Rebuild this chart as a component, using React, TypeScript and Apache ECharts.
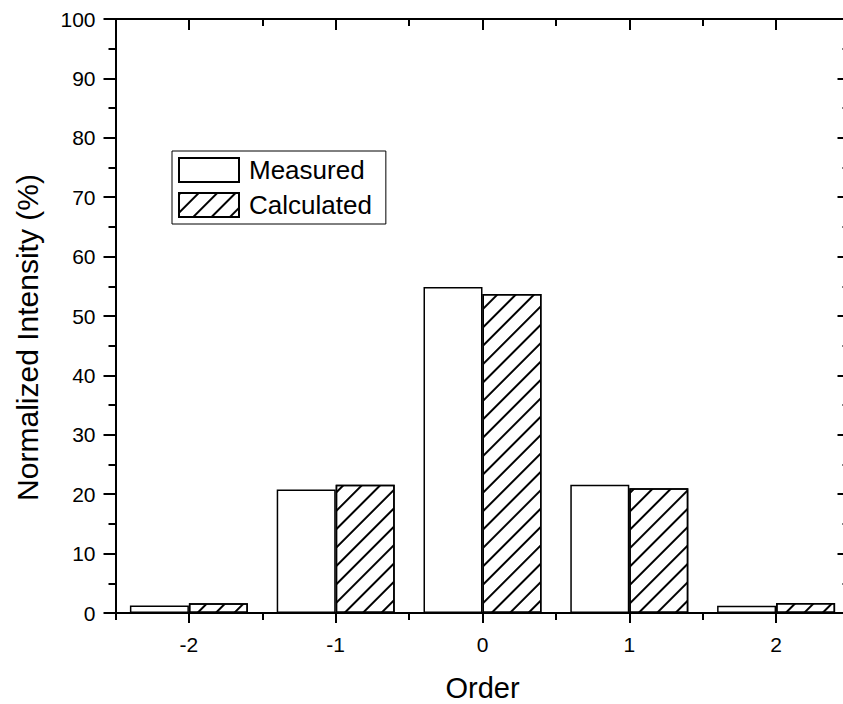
import React, { useEffect, useRef } from "react";
import * as echarts from "echarts";

const categories = ["-2", "-1", "0", "1", "2"];
const measured = [1.25, 20.8, 54.9, 21.6, 1.2];
const calculated = [1.65, 21.6, 53.7, 21.0, 1.7];
const yTitle = "Normalized Intensity (%)";
const xTitle = "Order";
const font = "Liberation Sans, Arial, sans-serif";

export default function App() {
  const ref = useRef<HTMLDivElement>(null);
  useEffect(() => {
    if (!ref.current) return;
    const chart = echarts.init(ref.current, null, { renderer: "svg" });
    const axisLine = { show: true, lineStyle: { color: "#000", width: 2 } };
    const hiddenLabel = { show: false };
    chart.setOption({
      animation: false,
      backgroundColor: "#fff",
      grid: {
        left: 115.5,
        width: 734,
        top: 19,
        bottom: 91,
        containLabel: false,
        outerBoundsMode: "none",
      },
      legend: {
        orient: "vertical",
        left: 172,
        top: 151,
        padding: [6, 14, 6, 6],
        borderColor: "#000",
        borderWidth: 1,
        itemWidth: 60,
        itemHeight: 24,
        itemGap: 9,
        icon: "rect",
        textStyle: { fontSize: 26, fontFamily: font, color: "#000", padding: [0, 0, 0, 5] },
        data: ["Measured", "Calculated"],
      },
      xAxis: [
        {
          type: "category",
          data: categories,
          position: "bottom",
          axisLine,
          axisTick: { show: true, alignWithLabel: true, length: 10, lineStyle: { color: "#000", width: 2 } },
          axisLabel: { margin: 21, fontSize: 21, fontFamily: font, color: "#000" },
          name: xTitle,
          nameLocation: "middle",
          nameGap: 60,
          nameTextStyle: { fontSize: 29, fontFamily: font, color: "#000" },
          splitLine: { show: false },
        },
        {
          type: "category",
          data: categories,
          position: "bottom",
          axisLine: { show: false },
          axisTick: { show: true, length: 7, lineStyle: { color: "#000", width: 2 } },
          axisLabel: hiddenLabel,
          splitLine: { show: false },
        },
        {
          type: "category",
          data: categories,
          position: "top",
          axisLine,
          axisTick: { show: true, inside: true, alignWithLabel: true, length: 11, lineStyle: { color: "#000", width: 2 } },
          axisLabel: hiddenLabel,
          splitLine: { show: false },
        },
        {
          type: "category",
          data: categories,
          position: "top",
          axisLine: { show: false },
          axisTick: { show: true, inside: true, length: 7, lineStyle: { color: "#000", width: 2 } },
          axisLabel: hiddenLabel,
          splitLine: { show: false },
        },
      ],
      yAxis: [
        {
          type: "value",
          position: "left",
          min: 0,
          max: 100,
          interval: 10,
          axisLine,
          axisTick: { show: true, length: 12, lineStyle: { color: "#000", width: 2 } },
          minorTick: { show: true, splitNumber: 2, length: 7, lineStyle: { color: "#000", width: 2 } },
          axisLabel: { margin: 20, fontSize: 21, fontFamily: font, color: "#000" },
          splitLine: { show: false },
          minorSplitLine: { show: false },
        },
        {
          type: "value",
          position: "right",
          min: 0,
          max: 100,
          interval: 10,
          axisLine,
          axisTick: { show: true, inside: true, length: 12, lineStyle: { color: "#000", width: 2 } },
          minorTick: { show: true, splitNumber: 2, length: 7, lineStyle: { color: "#000", width: 2 } },
          axisLabel: hiddenLabel,
          splitLine: { show: false },
          minorSplitLine: { show: false },
        },
      ],
      series: [
        {
          name: "Measured",
          type: "bar",
          xAxisIndex: 0,
          yAxisIndex: 0,
          data: measured,
          barWidth: 59,
          barGap: "0%",
          itemStyle: { color: "#fff", borderColor: "#000", borderWidth: 1.5 },
        },
        {
          name: "Calculated",
          type: "bar",
          xAxisIndex: 0,
          yAxisIndex: 0,
          data: calculated,
          barWidth: 59,
          barGap: "0%",
          itemStyle: {
            color: "#fff",
            borderColor: "#000",
            borderWidth: 1.5,
            decal: {
              symbol: "rect",
              symbolSize: 1,
              dashArrayX: [1, 0],
              dashArrayY: [1.1, 10.3],
              rotation: -Math.PI / 4,
              color: "#000",
              backgroundColor: "#fff",
            },
          },
        },
      ],
      graphic: [
        {
          type: "text",
          x: 27.5,
          y: 337.5,
          rotation: Math.PI / 2,
          style: {
            text: yTitle,
            fontSize: 30,
            fontFamily: font,
            fill: "#000",
            textAlign: "center",
            textVerticalAlign: "middle",
          },
        },
      ],
    });
    return () => chart.dispose();
  }, []);
  return (
    <div
      ref={ref}
      style={{ position: "fixed", left: 0, top: 0, width: 843, height: 704, background: "#fff" }}
    />
  );
}
